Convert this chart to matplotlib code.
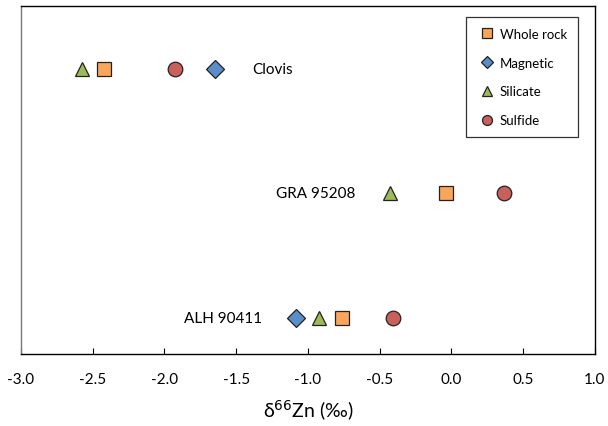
import matplotlib
matplotlib.use("Agg")
import matplotlib.pyplot as plt

plt.rcParams["font.family"] = ["Lato", "DejaVu Sans"]

# sample rows (bottom to top)
samples = ["ALH 90411", "GRA 95208", "Clovis"]
rows = [1, 2, 3]

# delta66Zn values per fraction (None = not measured)
whole_rock = [-0.76, -0.04, -2.42]
magnetic = [-1.08, None, -1.65]
silicate = [-0.92, -0.43, -2.575]
sulfide = [-0.41, 0.366, -1.93]

series = [
    ("Whole rock", whole_rock, "s", "#F9A65A", 10),
    ("Magnetic", magnetic, "D", "#5A8ECB", 9),
    ("Silicate", silicate, "^", "#9BBB59", 10.5),
    ("Sulfide", sulfide, "o", "#C9605B", 10.5),
]

fig = plt.figure(figsize=(6.08, 4.27), dpi=100)
ax = fig.add_axes([0.0345, 0.1686, 0.944, 0.815])

for name, vals, mk, col, ms in series:
    xs = [v for v in vals if v is not None]
    ys = [r for v, r in zip(vals, rows) if v is not None]
    ax.plot(xs, ys, linestyle="none", marker=mk, markersize=ms,
            markerfacecolor=col, markeredgecolor="#222222", markeredgewidth=0.9,
            label=name)

# sample labels
ax.annotate("Clovis", (magnetic[2], 3), xytext=(27, 0), textcoords="offset points",
            ha="left", va="center", fontsize=11)
ax.annotate("GRA 95208", (silicate[1], 2), xytext=(-25, 0), textcoords="offset points",
            ha="right", va="center", fontsize=11)
ax.annotate("ALH 90411", (magnetic[0], 1), xytext=(-25, 0), textcoords="offset points",
            ha="right", va="center", fontsize=11)

ax.set_xlim(-3.0, 1.0)
ax.set_ylim(0.71, 3.506)
ax.set_xticks([-3.0, -2.5, -2.0, -1.5, -1.0, -0.5, 0.0, 0.5, 1.0])
ax.set_xticklabels([f"{t:.1f}" for t in ax.get_xticks()])
ax.set_yticks([])
ax.tick_params(axis="x", direction="in", length=4, width=0.8, labelsize=11, pad=13)
ax.set_xlabel("δ$^{66}$Zn (‰)", fontsize=14, labelpad=8)

for s in ax.spines.values():
    s.set_linewidth(1.0)
    s.set_color("black")
ax.spines["left"].set_color("#777777")

leg = ax.legend(loc="upper right", bbox_to_anchor=(0.970, 0.968), fontsize=9.5,
                frameon=True, fancybox=False, edgecolor="black", labelspacing=1.28,
                handletextpad=0.2, handlelength=1.6, borderpad=0.8, borderaxespad=0,
                markerscale=0.68)
leg.get_frame().set_linewidth(0.9)

fig.savefig("out.png", dpi=100)
